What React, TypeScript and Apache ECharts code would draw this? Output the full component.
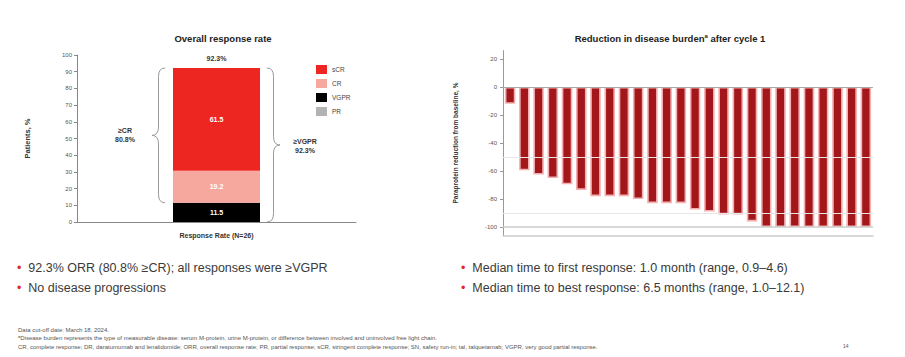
import React, { useEffect, useRef } from "react";
import * as echarts from "echarts";

// Overall response rate (stacked, % of patients, N=26)
const responseCategory = ["Response Rate (N=26)"];
const responseLegend = ["sCR", "CR", "VGPR", "PR"];
const vgprValues = [11.5];
const crValues = [19.2];
const scrValues = [61.5];
const prValues = [0];
const orrLabel = "92.3%";
const crOrBetterLabel = "≥CR\n80.8%";
const vgprOrBetterLabel = "≥VGPR\n92.3%";

// Paraprotein reduction from baseline after cycle 1, one bar per patient
const patients = Array.from({ length: 26 }, (_, i) => String(i + 1));
const reductionValues = [
  -12, -59.5, -62.5, -65, -69.5, -73.5, -78, -78, -78, -80, -83, -83, -83,
  -87.5, -89, -91, -91, -96, -100, -100, -100, -100, -100, -100, -100, -100,
];
const reductionTicks = [20, 0, -20, -40, -60, -80, -100];
const reductionRefLines = [0, -50, -90, -100];

const bulletsLeft = [
  "92.3% ORR (80.8% ≥CR); all responses were ≥VGPR",
  "No disease progressions",
];
const bulletsRight = [
  "Median time to first response: 1.0 month (range, 0.9–4.6)",
  "Median time to best response: 6.5 months (range, 1.0–12.1)",
];
const footnotes = [
  "Data cut-off date: March 18, 2024.",
  "ᵃDisease burden represents the type of measurable disease: serum M-protein, urine M-protein, or difference between involved and uninvolved free light chain.",
  "CR, complete response; DR, daratumumab and lenalidomide; ORR, overall response rate; PR, partial response; sCR, stringent complete response; SN, safety run-in; tal, talquetamab; VGPR, very good partial response.",
];

const FONT = "Liberation Sans";

// Curly brace: xa = x of the arms, xt = x of the tip
const Brace = echarts.graphic.extendShape({
  shape: { xa: 0, xt: 0, y1: 0, y2: 0 },
  buildPath(ctx: any, s: any) {
    const { xa, xt, y1, y2 } = s;
    const ym = (y1 + y2) / 2;
    const xm = (xa + xt) / 2;
    const r = Math.min(Math.abs(xa - xt) / 2 + 2, (y2 - y1) / 4);
    ctx.moveTo(xa, y1);
    ctx.quadraticCurveTo(xm, y1, xm, y1 + r);
    ctx.lineTo(xm, ym - r);
    ctx.quadraticCurveTo(xm, ym, xt, ym);
    ctx.quadraticCurveTo(xm, ym, xm, ym + r);
    ctx.lineTo(xm, y2 - r);
    ctx.quadraticCurveTo(xm, y2, xa, y2);
  },
});
echarts.graphic.registerShape("brace", Brace);

export default function App() {
  const ref = useRef<HTMLDivElement>(null);

  useEffect(() => {
    const chart = echarts.init(ref.current!, null, { renderer: "svg" });
    const barW = 87;

    const stackLabel = {
      show: true,
      position: "inside",
      color: "#fff",
      fontSize: 7,
      fontWeight: "bold",
      fontFamily: FONT,
    };

    chart.setOption({
      animation: false,
      backgroundColor: "#fff",
      textStyle: { fontFamily: FONT },
      title: [
        {
          text: "Overall response rate",
          left: 218,
          top: 28,
          textAlign: "center",
          textStyle: { fontSize: 9.5, fontWeight: "bold", color: "#222", fontFamily: FONT },
        },
        {
          text: "{t|Reduction in disease burden}{s|a}{t| after cycle 1}",
          left: 665,
          top: 28,
          textAlign: "center",
          textStyle: {
            rich: {
              t: { fontSize: 9.5, fontWeight: "bold", color: "#222", fontFamily: FONT },
              s: { fontSize: 6, fontWeight: "bold", color: "#222", fontFamily: FONT, verticalAlign: "top", padding: [0, 0, 5, 0] },
            },
          },
        },
      ],
      legend: {
        data: responseLegend,
        orient: "vertical",
        left: 311,
        top: 60,
        itemWidth: 11,
        itemHeight: 9,
        itemGap: 5,
        icon: "rect",
        textStyle: { fontSize: 6.5, color: "#444", fontFamily: FONT },
      },
      grid: [
        { left: 77, top: 55, width: 279, height: 167 },
        { left: 503, top: 50.6, width: 370, height: 184.8 },
      ],
      xAxis: [
        {
          type: "category",
          gridIndex: 0,
          data: responseCategory,
          axisLine: { lineStyle: { color: "#888", width: 1 } },
          axisTick: { show: false },
          axisLabel: { fontSize: 7, fontWeight: "bold", color: "#333", margin: 10 },
        },
        {
          type: "category",
          gridIndex: 1,
          data: patients,
          axisLine: { onZero: false, lineStyle: { color: "#ccc", width: 1.5 } },
          axisTick: { show: false },
          axisLabel: { show: false },
        },
      ],
      yAxis: [
        {
          type: "value",
          gridIndex: 0,
          min: 0,
          max: 100,
          interval: 10,
          name: "Patients, %",
          nameLocation: "middle",
          nameGap: 46,
          nameTextStyle: { fontSize: 7.5, fontWeight: "bold", color: "#333" },
          axisLine: { show: true, lineStyle: { color: "#888" } },
          axisTick: { show: true, length: 3, lineStyle: { color: "#888" } },
          axisLabel: { fontSize: 6, color: "#555", margin: 5 },
          splitLine: { show: false },
        },
        {
          type: "value",
          gridIndex: 1,
          min: -106,
          max: 26,
          name: "Paraprotein reduction from baseline, %",
          nameLocation: "middle",
          nameGap: 44,
          nameTextStyle: { fontSize: 6.5, fontWeight: "bold", color: "#333" },
          axisLine: { show: true, lineStyle: { color: "#999" } },
          axisTick: { show: true, length: 3, customValues: reductionTicks, lineStyle: { color: "#999" } },
          axisLabel: { fontSize: 6, color: "#555", margin: 6, customValues: reductionTicks },
          splitLine: { show: false },
        },
      ],
      series: [
        {
          name: "VGPR",
          type: "bar",
          stack: "orr",
          xAxisIndex: 0,
          yAxisIndex: 0,
          barWidth: barW,
          data: vgprValues,
          itemStyle: { color: "#000" },
          label: { ...stackLabel },
        },
        {
          name: "CR",
          type: "bar",
          stack: "orr",
          xAxisIndex: 0,
          yAxisIndex: 0,
          barWidth: barW,
          data: crValues,
          itemStyle: { color: "#f6a89e" },
          label: { ...stackLabel },
        },
        {
          name: "sCR",
          type: "bar",
          stack: "orr",
          xAxisIndex: 0,
          yAxisIndex: 0,
          barWidth: barW,
          data: scrValues,
          itemStyle: { color: "#ee2622" },
          label: { ...stackLabel },
        },
        {
          name: "PR",
          type: "bar",
          stack: "orr",
          xAxisIndex: 0,
          yAxisIndex: 0,
          barWidth: barW,
          data: prValues,
          itemStyle: { color: "#b3b3b3" },
          label: { show: false },
        },
        {
          name: "Reduction",
          type: "bar",
          xAxisIndex: 1,
          yAxisIndex: 1,
          barWidth: 10.5,
          data: reductionValues,
          itemStyle: { color: "#a3161a", borderColor: "#f3b0b0", borderWidth: 1.6 },
          markLine: {
            silent: true,
            symbol: "none",
            label: { show: false },
            data: reductionRefLines.map((v) => ({
              yAxis: v,
              lineStyle: {
                type: "solid",
                width: v === -100 ? 1.5 : 1,
                color: v === 0 ? "#aaa" : v === -100 ? "#ccc" : "#e6e6e6",
              },
            })),
          },
        },
      ],
    });

    // Annotations placed from the axes' own scales
    const cx = chart.convertToPixel({ xAxisIndex: 0 }, responseCategory[0]) as number;
    const yOf = (v: number) => chart.convertToPixel({ yAxisIndex: 0 }, v) as number;
    const total = vgprValues[0] + crValues[0] + scrValues[0];
    const yTop = yOf(total);
    const yCrBase = yOf(vgprValues[0]);
    const yZero = yOf(0);
    const barL = cx - barW / 2;
    const barR = cx + barW / 2;
    const braceStyle = { stroke: "#999", fill: "none", lineWidth: 1 };
    const annText = { fontSize: 7, fontWeight: "bold", fill: "#333", fontFamily: FONT, align: "center", lineHeight: 9 };

    const bulletText = (lines: string[], x: number) =>
      lines.map((t, i) => ({
        type: "text",
        x,
        y: 261 + i * 20,
        style: {
          text: `{b|•}{t|  ${t}}`,
          rich: {
            b: { fontSize: 12.5, fill: "#e0262a", fontFamily: FONT },
            t: { fontSize: 12.5, fill: "#3a3a3a", fontFamily: FONT },
          },
        },
      }));

    chart.setOption({
      graphic: [
        { type: "text", x: cx, y: yTop - 14, style: { ...annText, text: orrLabel } },
        { type: "brace", shape: { xa: barL - 8, xt: barL - 21, y1: yTop, y2: yCrBase }, style: braceStyle },
        { type: "brace", shape: { xa: barR + 7, xt: barR + 20, y1: yTop, y2: yZero }, style: braceStyle },
        { type: "text", x: barL - 48, y: (yTop + yCrBase) / 2 - 9, style: { ...annText, text: crOrBetterLabel } },
        { type: "text", x: barR + 45, y: (yTop + yZero) / 2 - 8, style: { ...annText, text: vgprOrBetterLabel } },
        ...bulletText(bulletsLeft, 17),
        ...bulletText(bulletsRight, 461),
        ...footnotes.map((t, i) => ({
          type: "text",
          x: 18,
          y: 326.5 + i * 8.5,
          style: { text: t, fontSize: 6, fill: "#555", fontFamily: FONT },
        })),
        { type: "text", x: 843, y: 343, style: { text: "14", fontSize: 5, fill: "#555", fontFamily: FONT } },
      ],
    });

    return () => chart.dispose();
  }, []);

  return (
    <div
      ref={ref}
      style={{ position: "absolute", left: 0, top: 0, width: 905, height: 357 }}
    />
  );
}
